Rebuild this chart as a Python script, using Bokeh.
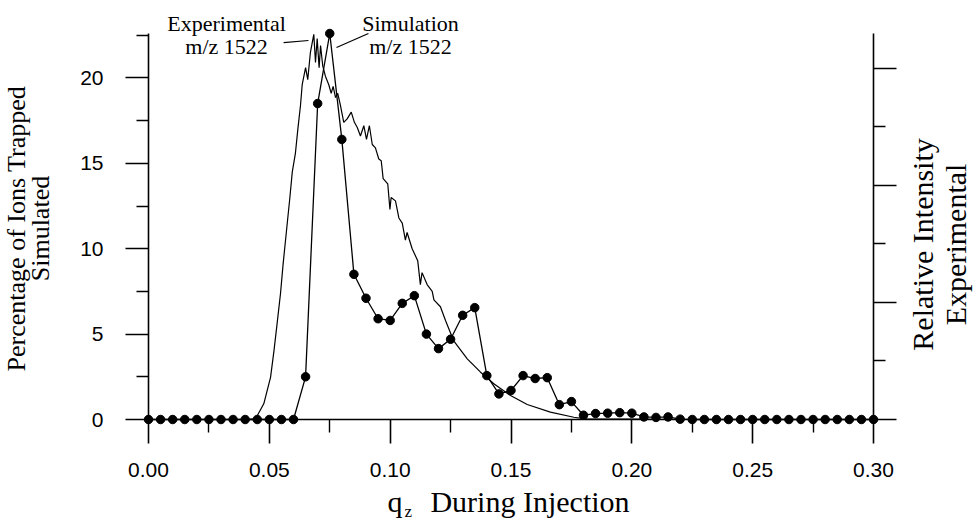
import math
from bokeh.plotting import figure
from bokeh.models import FixedTicker, PrintfTickFormatter, LinearAxis, Range1d, Label
from bokeh.embed import file_html
from bokeh.resources import INLINE

# ---- data -----------------------------------------------------------------
sim_q = [0.000, 0.005, 0.010, 0.015, 0.020, 0.025, 0.030, 0.035, 0.040, 0.045,
         0.050, 0.055, 0.060, 0.065, 0.070, 0.075, 0.080, 0.085, 0.090, 0.095,
         0.100, 0.105, 0.110, 0.115, 0.120, 0.125, 0.130, 0.135, 0.140, 0.145,
         0.150, 0.155, 0.160, 0.165, 0.170, 0.175, 0.180, 0.185, 0.190, 0.195,
         0.200, 0.205, 0.210, 0.215, 0.220, 0.225, 0.230, 0.235, 0.240, 0.245,
         0.250, 0.255, 0.260, 0.265, 0.270, 0.275, 0.280, 0.285, 0.290, 0.295,
         0.300]
sim_y = [0, 0, 0, 0, 0, 0, 0, 0, 0, 0,
         0, 0, 0, 2.5, 18.5, 22.6, 16.4, 8.5, 7.1, 5.9,
         5.8, 6.8, 7.25, 5.0, 4.15, 4.7, 6.1, 6.55, 2.57, 1.5,
         1.7, 2.57, 2.4, 2.45, 0.87, 1.05, 0.25, 0.35, 0.37, 0.4,
         0.37, 0.15, 0.12, 0.15, 0.02, 0, 0, 0, 0, 0,
         0, 0, 0, 0, 0, 0, 0, 0, 0, 0,
         0]

exp_q = [0.0, 0.040, 0.0443, 0.0477, 0.0505, 0.0519, 0.0532, 0.0546, 0.0557, 0.0571,
         0.0585, 0.0595, 0.0608, 0.0618, 0.0629, 0.0636, 0.0650, 0.0659, 0.0670, 0.0684,
         0.0691, 0.0698, 0.0706, 0.0712, 0.0721, 0.0732, 0.0746, 0.0756, 0.0764, 0.0774,
         0.0783, 0.0794, 0.0808, 0.0822, 0.0839, 0.0852, 0.0864, 0.0877, 0.0891, 0.0902,
         0.0914, 0.0926, 0.0939, 0.0953, 0.0963, 0.0971, 0.0990, 0.0999, 0.1004, 0.1022,
         0.1036, 0.1050, 0.1063, 0.1070, 0.1091, 0.1114, 0.1125, 0.1132, 0.1153, 0.1174,
         0.1181, 0.1208, 0.1229, 0.1263, 0.1319, 0.1374, 0.1429, 0.1498, 0.1567, 0.1663,
         0.1760, 0.1815, 0.2000, 0.2200, 0.3000]
exp_y = [0, 0, 0.04, 0.92, 2.47, 4.0, 5.6, 7.35, 9.1, 11.05,
         13.0, 14.5, 15.6, 17.0, 18.4, 19.6, 20.6, 19.9, 21.5, 22.55,
         20.9, 22.3, 20.6, 21.9, 20.7, 20.1, 19.6, 19.1, 19.5, 18.85,
         19.1, 18.4, 17.4, 17.6, 18.0, 17.4, 17.1, 16.6, 17.2, 16.4,
         17.2, 16.1, 15.9, 15.25, 15.15, 14.1, 13.8, 12.3, 13.0, 12.8,
         11.8, 11.5, 10.5, 10.95, 10.0, 9.3, 7.9, 8.6, 7.9, 7.5,
         7.0, 6.6, 5.8, 4.6, 3.55, 2.77, 2.09, 1.4, 0.88, 0.43,
         0.13, 0.02, 0.03, 0.0, 0.0]

x_ticks = [0.00, 0.05, 0.10, 0.15, 0.20, 0.25, 0.30]
x_minor = [0.025, 0.075, 0.125, 0.175, 0.225, 0.275]
x_max = 0.30
y_ticks = [0, 5, 10, 15, 20]
y_minor = [2.5, 7.5, 12.5, 17.5, 22.5]
y_top = 22.6
r_ticks = [0, 2, 4, 6]
r_minor = [1, 3, 5]
r_ratio = 3.43

ann_texts = ["Experimental", "m/z 1522", "Simulation", "m/z 1522"]
ann_x = [0.0323, 0.0323, 0.1084, 0.1084]
ann_y = [23.19, 21.84, 23.19, 21.84]
lead_x0 = [0.0559, 0.0778]
lead_y0 = [22.07, 21.78]
lead_x1 = [0.0662, 0.0910]
lead_y1 = [22.19, 22.60]

SANS = "Liberation Sans"
SERIF = "Liberation Serif"

# axis titles (text, x, y, angle, size, align)
titles = [
    ("Percentage of Ions Trapped", -0.05462, 11.18, math.pi / 2, "26px", "center"),
    ("Simulated", -0.04469, 11.18, math.pi / 2, "26px", "center"),
    ("Relative Intensity", 0.32028, 10.25, math.pi / 2, "30px", "center"),
    ("Experimental", 0.33393, 10.25, math.pi / 2, "30px", "center"),
    ("q", 0.09890, -4.80, 0.0, "30px", "left"),
    ("During Injection", 0.15786, -4.80, 0.0, "30px", "center"),
    ("z", 0.10593, -5.39, 0.0, "17px", "left"),
]

# ---- figure: the frame covers the whole canvas ---------------------------
x_lo, x_hi = -0.061241, 0.343034
y_lo, y_hi = -5.9134, 24.5322
p = figure(width=977, height=520, output_backend="svg", toolbar_location=None,
           x_range=Range1d(x_lo, x_hi), y_range=Range1d(y_lo, y_hi),
           min_border_left=0, min_border_right=0, min_border_top=0,
           min_border_bottom=0)
p.extra_y_ranges = {"right": Range1d(y_lo / r_ratio, y_hi / r_ratio)}
p.grid.visible = False
p.outline_line_color = None
p.background_fill_color = "white"
p.border_fill_color = "white"

xa = p.xaxis[0]
xa.fixed_location = 0
xa.bounds = (0, x_max)
xa.ticker = FixedTicker(ticks=x_ticks, minor_ticks=x_minor)
xa.formatter = PrintfTickFormatter(format="%.2f")

ya = p.yaxis[0]
ya.fixed_location = 0
ya.bounds = (0, y_top)
ya.ticker = FixedTicker(ticks=y_ticks, minor_ticks=y_minor)

ra = LinearAxis(y_range_name="right",
                ticker=FixedTicker(ticks=r_ticks, minor_ticks=r_minor))
ra.fixed_location = x_max
ra.bounds = (0, y_top / r_ratio)
ra.major_label_overrides = {t: "" for t in r_ticks}
p.add_layout(ra, "right")

for ax in (xa, ya, ra):
    ax.axis_line_color = "black"
    ax.axis_line_width = 1.6
    ax.major_tick_line_color = "black"
    ax.major_tick_line_width = 1.6
    ax.minor_tick_line_color = "black"
    ax.minor_tick_line_width = 1.4
    ax.major_tick_in = 0
    ax.major_tick_out = 23
    ax.minor_tick_in = 0
    ax.minor_tick_out = 12
    ax.major_label_text_font = SANS
    ax.major_label_text_color = "black"
    ax.major_label_text_font_size = "21px"

xa.major_tick_out = 24
xa.minor_tick_out = 13
xa.major_label_standoff = 19
ya.major_label_standoff = 22

# ---- data renderers -------------------------------------------------------
p.line(exp_q, exp_y, line_color="black", line_width=1.2)
p.line(sim_q, sim_y, line_color="black", line_width=1.3)
p.scatter(sim_q, sim_y, size=8.5, fill_color="black", line_color="black")

# ---- annotations ----------------------------------------------------------
p.segment(x0=lead_x0, y0=lead_y0, x1=lead_x1, y1=lead_y1,
          line_color="black", line_width=1.2)
for t, x, y in zip(ann_texts, ann_x, ann_y):
    p.add_layout(Label(x=x, y=y, text=t, text_align="center",
                       text_baseline="alphabetic", text_font=SERIF,
                       text_font_size="22px", text_color="black"))
for t, x, y, a, fs, al in titles:
    p.add_layout(Label(x=x, y=y, text=t, angle=a, text_align=al,
                       text_baseline="alphabetic", text_font=SERIF,
                       text_font_size=fs, text_color="black"))

open("out.html", "w").write(file_html(p, INLINE))
